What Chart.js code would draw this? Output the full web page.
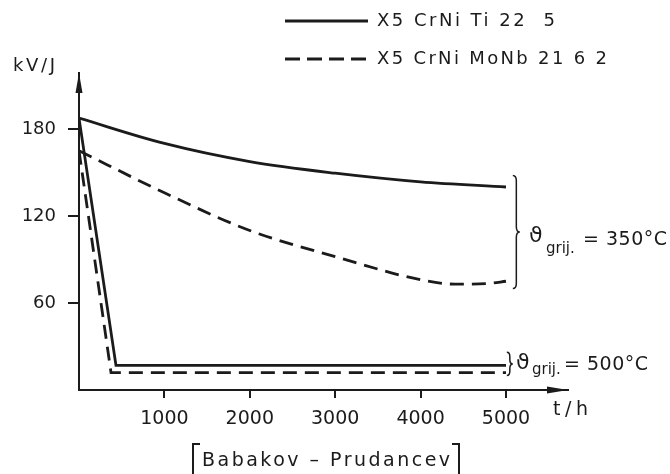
<!DOCTYPE html>
<html><head><meta charset="utf-8">
<script src="https://cdn.jsdelivr.net/npm/chart.js@4/dist/chart.umd.min.js"></script>
<style>html,body{margin:0;padding:0;background:#fff;}#wrap{width:670px;height:474px;position:relative;}</style>
</head><body><div id="wrap"><canvas id="c" width="670" height="474"></canvas></div>
<script>
// ---- data ----
const xTicks = [1000, 2000, 3000, 4000, 5000];
const yTicks = [60, 120, 180];
const ti350Hours = [0, 1000, 2000, 3000, 4000, 5000];
const ti350Values = [187.5, 170, 157.5, 149.5, 143.5, 140];
const nb350Hours = [0, 1000, 2000, 3000, 4000, 4400, 4800, 5000];
const nb350Values = [165, 136, 110, 92, 76, 73, 73.5, 75];
const ti500Hours = [0, 433, 5000];
const ti500Values = [187.5, 17, 17];
const nb500Hours = [0, 375, 5000];
const nb500Values = [165, 12, 12];
const legendLabels = ['X5 CrNi Ti 22  5', 'X5 CrNi MoNb 21 6 2'];
const groupTemps = ['= 350°C', '= 500°C'];
const yAxisTitle = 'kV/J';
const xAxisTitle = 't/h';
const sourceNote = 'Babakov – Prudancev';

const INK = '#1b1b1b';
const FONT = "'DejaVu Sans', sans-serif";
const pts = (xs, ys) => xs.map((x, i) => ({x: x, y: ys[i]}));
const DASH = [14, 8];

function spaced(ctx, text, x, y, target, size) {
  ctx.font = size + 'px ' + FONT;
  ctx.letterSpacing = '0px';
  const w = ctx.measureText(text).width;
  const ls = (target - w) / Math.max(1, text.length - 1);
  ctx.letterSpacing = ls.toFixed(2) + 'px';
  ctx.textAlign = 'left';
  ctx.textBaseline = 'middle';
  ctx.fillText(text, x, y);
  ctx.letterSpacing = '0px';
}
function brace(ctx, x, y1, y2, w) {
  const ym = (y1 + y2) / 2, h = w / 2;
  ctx.beginPath();
  ctx.moveTo(x, y1);
  ctx.quadraticCurveTo(x + h, y1, x + h, y1 + h * 1.5);
  ctx.lineTo(x + h, ym - h * 1.5);
  ctx.quadraticCurveTo(x + h, ym, x + w, ym);
  ctx.quadraticCurveTo(x + h, ym, x + h, ym + h * 1.5);
  ctx.lineTo(x + h, y2 - h * 1.5);
  ctx.quadraticCurveTo(x + h, y2, x, y2);
  ctx.stroke();
}

const deco = {
  id: 'deco',
  afterDraw(chart) {
    const ctx = chart.ctx, xs = chart.scales.x, ys = chart.scales.y;
    const L = xs.left, R = xs.right, T = ys.top, B = ys.bottom;
    ctx.save();
    ctx.fillStyle = INK; ctx.strokeStyle = INK;
    // axis arrows
    ctx.beginPath(); ctx.moveTo(L, T); ctx.lineTo(L - 3.5, T + 20); ctx.lineTo(L + 3.5, T + 20); ctx.closePath(); ctx.fill();
    ctx.beginPath(); ctx.moveTo(R, B); ctx.lineTo(R - 21, B - 3.5); ctx.lineTo(R - 21, B + 3.5); ctx.closePath(); ctx.fill();
    // axis titles
    spaced(ctx, yAxisTitle, 13, 66, 42, 18);
    spaced(ctx, xAxisTitle, 553, 410, 35, 19);
    // legend
    ctx.lineWidth = 2.8;
    ctx.beginPath(); ctx.moveTo(285, 21); ctx.lineTo(368, 21); ctx.stroke();
    ctx.setLineDash([15, 7]);
    ctx.beginPath(); ctx.moveTo(285, 59); ctx.lineTo(368, 59); ctx.stroke();
    ctx.setLineDash([]);
    spaced(ctx, legendLabels[0], 377, 21, 178, 18);
    spaced(ctx, legendLabels[1], 377, 59, 230, 18);
    // group braces
    ctx.lineWidth = 1.5;
    const bx = xs.getPixelForValue(5080);
    brace(ctx, bx, ys.getPixelForValue(148), ys.getPixelForValue(70), 7);
    brace(ctx, bx - 6, ys.getPixelForValue(26), ys.getPixelForValue(10), 6);
    // 350 label
    ctx.font = '22px ' + FONT; ctx.textBaseline = 'middle'; ctx.textAlign = 'left';
    ctx.fillText('ϑ', 529, 236);
    ctx.font = '15px ' + FONT; ctx.fillText('grij.', 546, 249);
    spaced(ctx, groupTemps[0], 583, 240, 84, 19);
    // 500 label
    ctx.font = '22px ' + FONT; ctx.textBaseline = 'middle';
    ctx.fillText('ϑ', 516, 363);
    ctx.font = '15px ' + FONT; ctx.fillText('grij.', 532, 370);
    spaced(ctx, groupTemps[1], 564, 365, 84, 19);
    // source note with brackets
    spaced(ctx, sourceNote, 202, 461, 248, 19);
    ctx.lineWidth = 2;
    ctx.beginPath(); ctx.moveTo(200, 444); ctx.lineTo(193, 444); ctx.lineTo(193, 476); ctx.stroke();
    ctx.beginPath(); ctx.moveTo(452, 444); ctx.lineTo(459, 444); ctx.lineTo(459, 476); ctx.stroke();
    ctx.restore();
  }
};

const lineDs = (xs, ys, dashed, curved) => ({
  data: pts(xs, ys),
  borderColor: INK,
  borderWidth: 2.8,
  borderDash: dashed ? DASH : [],
  pointRadius: 0,
  fill: false,
  tension: curved ? 0.4 : 0,
  cubicInterpolationMode: curved ? 'monotone' : 'default'
});

new Chart(document.getElementById('c'), {
  type: 'line',
  data: {
    datasets: [
      lineDs(ti350Hours, ti350Values, false, true),
      lineDs(nb350Hours, nb350Values, true, true),
      lineDs(ti500Hours, ti500Values, false, false),
      lineDs(nb500Hours, nb500Values, true, false)
    ]
  },
  options: {
    responsive: false,
    animation: false,
    layout: {padding: {top: 73, right: 102, left: 0, bottom: 0}},
    plugins: {legend: {display: false}, tooltip: {enabled: false}, title: {display: false}},
    scales: {
      x: {
        type: 'linear', min: 0, max: 5726,
        afterBuildTicks: s => { s.ticks = xTicks.map(v => ({value: v})); },
        afterFit: s => { s.height = 84; },
        grid: {drawOnChartArea: false, drawTicks: true, tickLength: 8, color: INK, lineWidth: 2},
        border: {display: true, color: INK, width: 2},
        ticks: {color: INK, font: {family: FONT, size: 19}, padding: 10, maxRotation: 0, autoSkip: false,
                callback: v => String(v)}
      },
      y: {
        type: 'linear', min: 0, max: 218.6,
        afterBuildTicks: s => { s.ticks = yTicks.map(v => ({value: v})); },
        afterFit: s => { s.width = 79; },
        grid: {drawOnChartArea: false, drawTicks: true, tickLength: 11, color: INK, lineWidth: 2},
        border: {display: true, color: INK, width: 2},
        ticks: {color: INK, font: {family: FONT, size: 18}, padding: 12, callback: v => String(v)}
      }
    }
  },
  plugins: [deco]
});
</script></body></html>
